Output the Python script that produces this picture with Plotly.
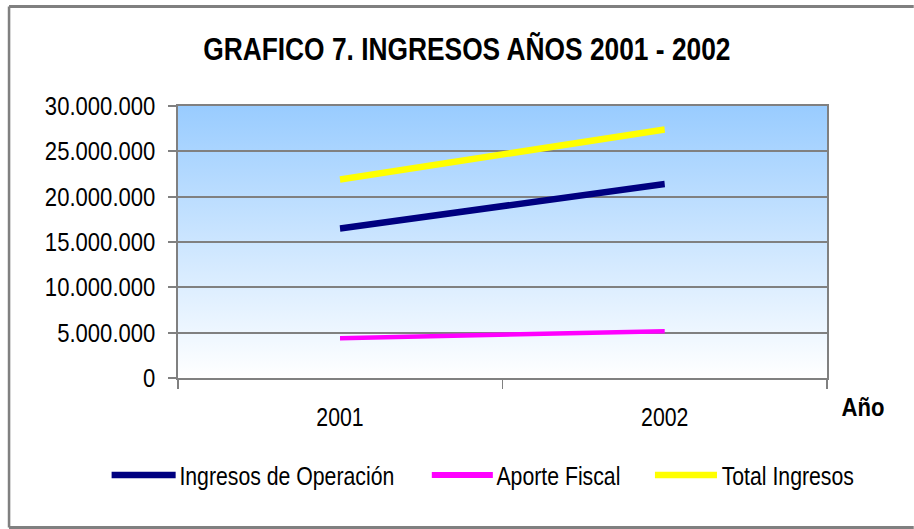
import base64
import plotly.graph_objects as go

# ---- data ----
years = ["2001", "2002"]
ingresos_operacion = [16500000, 21400000]
aporte_fiscal = [4380000, 5170000]
total_ingresos = [21900000, 27400000]

series_names = ["Ingresos de Operación", "Aporte Fiscal", "Total Ingresos"]
series_values = [ingresos_operacion, aporte_fiscal, total_ingresos]
series_colors = ["#000080", "#FF00FF", "#FFFF00"]
series_widths = [6.5, 4.5, 6.5]

title_text = "GRAFICO 7. INGRESOS AÑOS 2001 - 2002"
x_axis_title = "Año"
y_max = 30000000
y_step = 5000000

FONT = "Arial, Liberation Sans, sans-serif"

# The reference is a horizontally condensed rendering; draw wider and condense with CSS.
S = 0.85
W, H = 914, 529
L, R, T, B = 178, 827, 106, 378  # plot area box in final (screen) pixels
WD = round(W / S)


def px_x(px):
    return (px - L) / (R - L)


def px_y(py):
    return (B - py) / (B - T)


fig = go.Figure()
for name, vals, col, w in zip(series_names, series_values, series_colors, series_widths):
    fig.add_trace(go.Scatter(x=years, y=vals, mode="lines", name=name,
                             line=dict(color=col, width=w), showlegend=False,
                             hoverinfo="x+y+name"))

# gradient background image (svg)
svg = ('<svg xmlns="http://www.w3.org/2000/svg" width="100" height="100" preserveAspectRatio="none">'
       '<defs><linearGradient id="g" x1="0" y1="0" x2="0" y2="1">'
       '<stop offset="0" stop-color="#99CCFF"/><stop offset="1" stop-color="#FFFFFF"/>'
       '</linearGradient></defs><rect width="100" height="100" fill="url(#g)"/></svg>')
svg_uri = "data:image/svg+xml;base64," + base64.b64encode(svg.encode()).decode()

shapes = []
annotations = []
# outer frame (left, top, bottom edges; right edge lies outside the picture)
frame_col = "#808080"
for (ax0, ay0, ax1, ay1) in [(9.5, 6.5, 9.5, 527.5), (9.5, 6.5, 1000, 6.5), (9.5, 527.5, 1000, 527.5)]:
    shapes.append(dict(type="line", xref="paper", yref="paper",
                       x0=px_x(ax0), x1=px_x(ax1), y0=px_y(ay0), y1=px_y(ay1),
                       line=dict(color=frame_col, width=3), layer="above"))

# manual legend
legend_items = [(112, 176, 178), (432, 493, 495), (655, 717, 720)]
leg_y = 476
for (lx0, lx1, tx), name, col, w in zip(legend_items, series_names, series_colors, series_widths):
    shapes.append(dict(type="line", xref="paper", yref="paper",
                       x0=px_x(lx0), x1=px_x(lx1), y0=px_y(leg_y - 1), y1=px_y(leg_y - 1),
                       line=dict(color=col, width=max(w, 6))))
    annotations.append(dict(text=name, xref="paper", yref="paper", x=px_x(tx), y=px_y(leg_y),
                            xanchor="left", yanchor="middle", showarrow=False,
                            font=dict(family=FONT, size=25, color="#000000")))

annotations.append(dict(text="<b>%s</b>" % x_axis_title, xref="paper", yref="paper",
                        x=px_x(863), y=px_y(407), xanchor="center", yanchor="middle",
                        showarrow=False, font=dict(family=FONT, size=26, color="#000000")))

fig.update_layout(
    width=WD, height=H,
    margin=dict(l=round(L / S), r=WD - round(R / S), t=T, b=H - B, pad=0),
    paper_bgcolor="#FFFFFF",
    plot_bgcolor="rgba(0,0,0,0)",
    separators=",.",
    title=dict(text="<b>%s</b>" % title_text, x=px_x(467), xref="paper", xanchor="center",
               y=1 - 49 / H, yref="container", yanchor="middle",
               font=dict(family=FONT, size=31, color="#000000")),
    images=[dict(source=svg_uri, xref="paper", yref="paper", x=0, y=1, sizex=1, sizey=1,
                 sizing="stretch", layer="below", xanchor="left", yanchor="top")],
    shapes=shapes,
    annotations=annotations,
    showlegend=False,
    xaxis=dict(type="category", range=[-0.5, len(years) - 0.5], tickson="boundaries",
               ticks="outside", ticklen=9, tickwidth=2, tickcolor="#808080",
               showline=True, linecolor="#808080", linewidth=2, mirror=True,
               showgrid=False, zeroline=False,
               tickfont=dict(family=FONT, size=25, color="#000000"), ticklabelstandoff=16),
    yaxis=dict(range=[0, y_max], dtick=y_step, tick0=0, tickformat=",d",
               ticks="outside", ticklen=9, tickwidth=2, tickcolor="#808080",
               showline=True, linecolor="#808080", linewidth=2, mirror=True,
               showgrid=True, gridcolor="#808080", gridwidth=2, zeroline=False,
               tickfont=dict(family=FONT, size=26, color="#000000"), ticklabelstandoff=10),
)

post = (
    "document.documentElement.style.margin='0';"
    "document.body.style.margin='0';"
    "document.body.style.overflow='hidden';"
    "var gd=document.getElementById('{plot_id}');"
    "gd.style.transformOrigin='0 0';"
    "gd.style.transform='scaleX(%s)';" % S
)

fig.write_html("out.html", post_script=post, config={"displayModeBar": False})
